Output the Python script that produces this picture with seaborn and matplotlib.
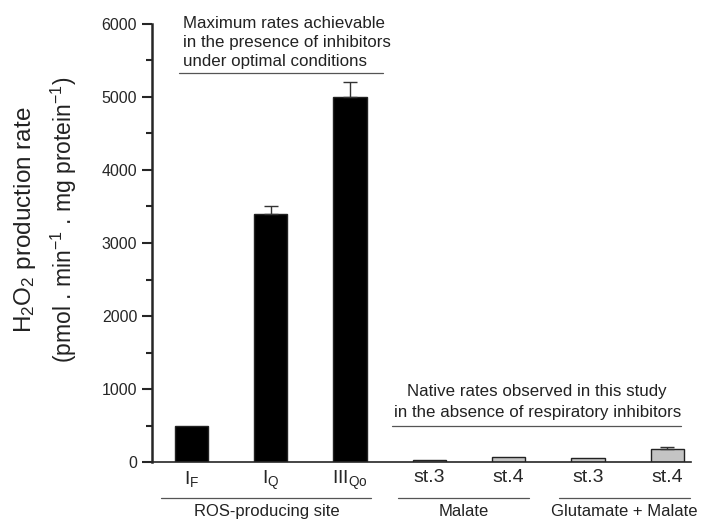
import numpy as np
import pandas as pd
import matplotlib
matplotlib.use("Agg")
import matplotlib.pyplot as plt
import matplotlib.transforms as mtransforms
import seaborn as sns

sites = ["IF", "IQ", "IIIQo", "M st.3", "M st.4", "GM st.3", "GM st.4"]
tick_labels = [r"$\mathregular{I_F}$", r"$\mathregular{I_Q}$", r"$\mathregular{III_{Qo}}$",
               "st.3", "st.4", "st.3", "st.4"]
rates = [500, 3400, 5000, 30, 75, 50, 185]
errors = [0, 100, 200, 0, 0, 0, 15]
bar_colors = ["black", "black", "black", "#c4c4c4", "#c4c4c4", "#c4c4c4", "#c4c4c4"]

groups = ["ROS-producing site", "Malate", "Glutamate + Malate"]
group_spans = [(-0.38, 2.27), (2.61, 4.25), (4.63, 6.28)]

sns.set_style("ticks")
plt.rcParams["font.family"] = ["Liberation Sans", "DejaVu Sans"]
plt.rcParams["mathtext.fontset"] = "custom"
plt.rcParams["mathtext.rm"] = "Liberation Sans"
plt.rcParams["mathtext.it"] = "Liberation Sans"

df = pd.DataFrame({"site": sites, "rate": rates})

fig = plt.figure(figsize=(7.14, 5.27), dpi=100)
ax = fig.add_axes([0.2125, 0.1233, 0.7555, 0.8312])

sns.barplot(data=df, x="site", y="rate", hue="site", palette=bar_colors,
            order=sites, width=0.42, legend=False, ax=ax,
            edgecolor="#222222", linewidth=1.0)

pos = np.arange(len(sites))
has_err = np.array(errors) > 0
ax.errorbar(pos[has_err], np.array(rates)[has_err],
            yerr=[np.zeros(has_err.sum()), np.array(errors)[has_err]],
            fmt="none", ecolor="#333333", elinewidth=1.0, capsize=5, capthick=1.0)

ax.set_xlim(-0.5, 6.3)
ax.set_ylim(0, 6000)
ax.set_yticks(range(0, 6001, 1000))
ax.set_yticks(range(500, 6000, 1000), minor=True)
ax.tick_params(axis="y", which="major", direction="out", length=7, width=1.5, labelsize=11.5)
ax.tick_params(axis="y", which="minor", direction="out", length=4, width=1.5)
ax.tick_params(axis="x", length=0, labelsize=14, pad=5)
ax.set_xticks(pos)
ax.set_xticklabels(tick_labels)
ax.set_xlabel("")
ax.set_ylabel("")

fig.text(25 / 714, 1 - 220 / 527, "H$_2$O$_2$ production rate", rotation=90,
         ha="center", va="center", fontsize=17.5, color="#222222")
fig.text(64 / 714, 1 - 220 / 527, "(pmol . min$^{-1}$ . mg protein$^{-1}$)", rotation=90,
         ha="center", va="center", fontsize=16.5, color="#222222")

sns.despine(ax=ax)
ax.spines["left"].set_linewidth(1.8)
ax.spines["bottom"].set_linewidth(1.2)

# group labels under the axis
trans = mtransforms.blended_transform_factory(ax.transData, ax.transAxes)
for name, (x0, x1) in zip(groups, group_spans):
    ax.plot([x0, x1], [-0.081, -0.081], transform=trans, color="#555555",
            lw=0.9, clip_on=False)
    ax.text((x0 + x1) / 2, -0.095, name, transform=trans, ha="center", va="top",
            fontsize=12, color="#222222")

# annotations inside the plot
ax.plot([-0.16, 2.41], [5330, 5330], color="#555555", lw=0.9)
ax.text(-0.11, 5380, "Maximum rates achievable\nin the presence of inhibitors\nunder optimal conditions",
        ha="left", va="bottom", fontsize=12.2, linespacing=1.33, color="#222222")
ax.plot([2.53, 6.17], [493, 493], color="#555555", lw=0.9)
ax.text(4.36, 580, "Native rates observed in this study\nin the absence of respiratory inhibitors",
        ha="center", va="bottom", fontsize=12.2, linespacing=1.45, color="#222222")

fig.savefig("out.png", dpi=100)
